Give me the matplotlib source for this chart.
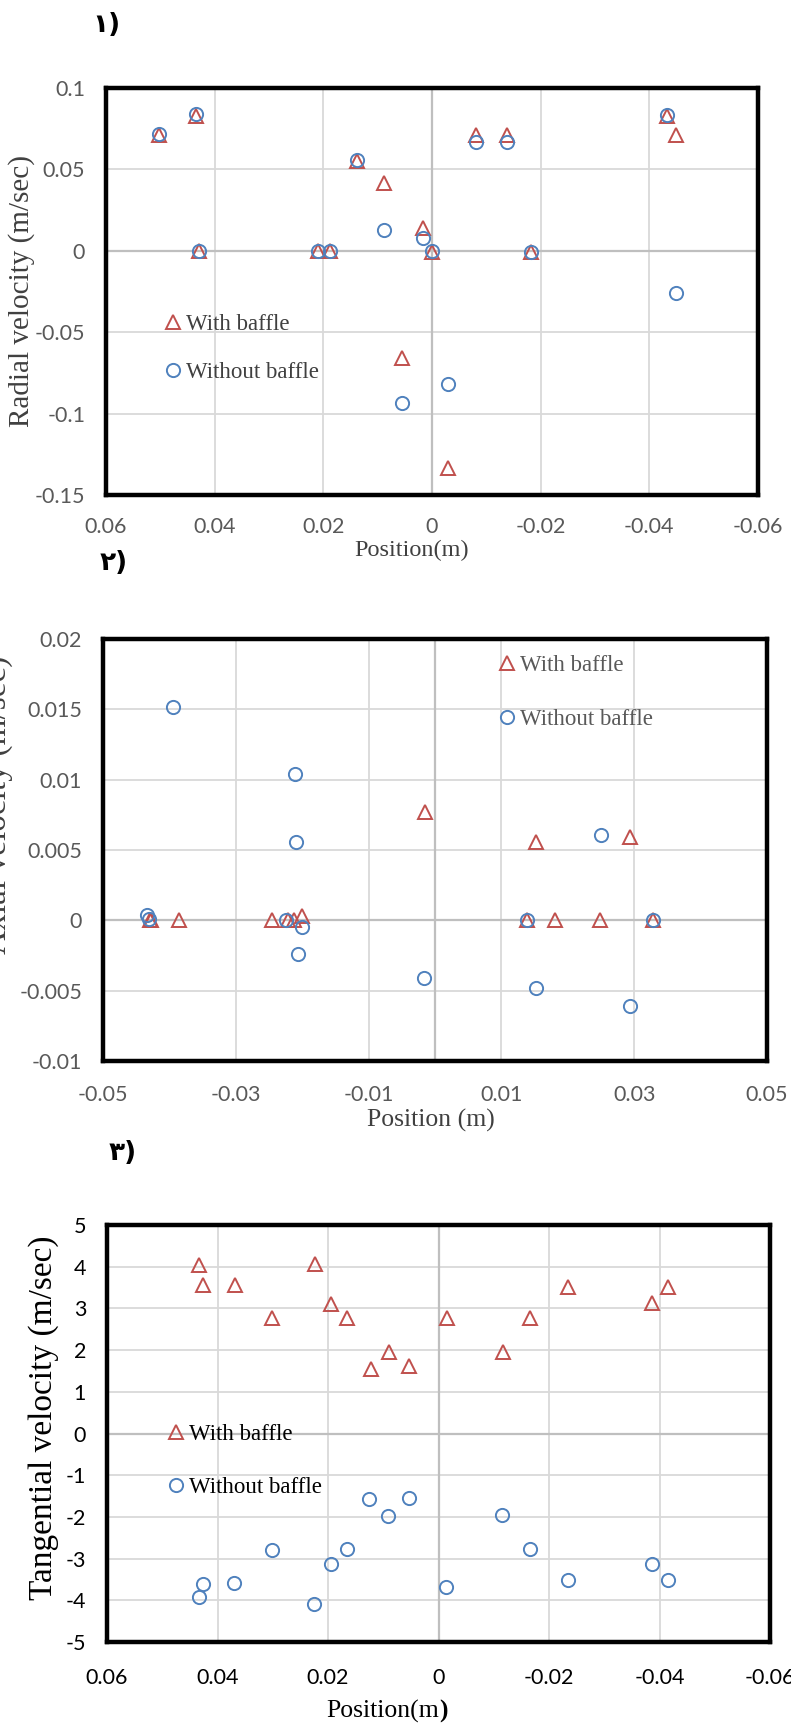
import numpy as np
import matplotlib.pyplot as plt

RED = '#C0504D'
BLUE = '#4F81BD'
GRID = '#d9d9d9'
ZERO = '#bfbfbf'

# panel 1 - radial velocity
rad_x_with = [0.0502, 0.0434, 0.0429, 0.021, 0.0188, 0.0138, 0.0088, 0.0017,
              0.0, -0.0081, -0.0138, -0.0182, -0.0433, -0.0449, 0.0055, -0.0029]
rad_v_with = [0.071, 0.083, 0.0, 0.0, 0.0, 0.055, 0.0417, 0.0141,
              -0.001, 0.071, 0.071, -0.001, 0.083, 0.071, -0.0656, -0.1337]
rad_x_without = [0.0502, 0.0434, 0.0429, 0.021, 0.0188, 0.0138, 0.0088, 0.0017,
                 0.0, -0.0081, -0.0138, -0.0182, -0.0433, -0.0449, 0.0055, -0.0029]
rad_v_without = [0.072, 0.084, 0.0, 0.0, 0.0, 0.056, 0.0129, 0.008,
                 0.0, 0.067, 0.067, -0.0005, 0.0834, -0.026, -0.0933, -0.0816]

# panel 2 - axial velocity
ax_x_with = [-0.0429, -0.0427, -0.0385, -0.0245, -0.0222, -0.0212, -0.020, -0.0015,
             0.0138, 0.0152, 0.0181, 0.0249, 0.0293, 0.0328]
ax_v_with = [0.0, 0.0, 0.0, 0.0, 0.0, 0.0, 0.0003, 0.0077,
             0.0, 0.0056, 0.0, 0.0, 0.0059, 0.0]
ax_x_without = [-0.0395, -0.0211, -0.0209, -0.0433, -0.0430, -0.0224, -0.0200, -0.0206,
                -0.0016, 0.0138, 0.0152, 0.025, 0.0293, 0.0328]
ax_v_without = [0.0152, 0.0104, 0.0056, 0.0004, 0.0001, 0.0, -0.0005, -0.0024,
                -0.0041, 0.0, -0.0048, 0.0061, -0.0061, 0.0]

# panel 3 - tangential velocity
tan_x_with = [0.0434, 0.0427, 0.0369, 0.0302, 0.0224, 0.0194, 0.0166, 0.0123,
              0.009, 0.0054, -0.0015, -0.0116, -0.0165, -0.0234, -0.0386, -0.0416]
tan_v_with = [4.04, 3.56, 3.56, 2.76, 4.06, 3.10, 2.76, 1.54,
              1.95, 1.61, 2.76, 1.95, 2.76, 3.51, 3.12, 3.51]
tan_x_without = [0.0125, 0.0054, 0.0092, -0.0115, 0.0301, 0.0166, -0.0165, 0.0195,
                 -0.0386, 0.0427, 0.037, 0.0433, 0.0226, -0.0014, -0.0234, -0.0415]
tan_v_without = [-1.56, -1.54, -1.97, -1.96, -2.79, -2.78, -2.78, -3.13,
                 -3.13, -3.61, -3.58, -3.92, -4.09, -3.68, -3.51, -3.51]

W, H = 791, 1726
fig = plt.figure(figsize=(W / 100, H / 100), dpi=100)


def box(left, top, right, bottom):
    return [left / W, 1 - bottom / H, (right - left) / W, (bottom - top) / H]


def setup(ax, xlim, ylim, xticks, yticks, xgrid, tick_color, pad_x, pad_y):
    ax.set_xlim(*xlim)
    ax.set_ylim(*ylim)
    ax.set_xticks(xticks)
    ax.set_yticks(yticks)
    ax.set_xticklabels(['%g' % v for v in xticks])
    ax.set_yticklabels(['%g' % v for v in yticks])
    for g in xgrid:
        ax.axvline(g, color=GRID, lw=1.3, zorder=0)
    for g in yticks:
        if g != 0:
            ax.axhline(g, color=GRID, lw=1.3, zorder=0)
    ax.axhline(0, color=ZERO, lw=1.6, zorder=0.5)
    ax.axvline(0, color=ZERO, lw=1.6, zorder=0.5)
    for s in ax.spines.values():
        s.set_linewidth(3.2)
        s.set_color('black')
    ax.tick_params(axis='both', length=0, labelsize=15.5, labelcolor=tick_color)
    ax.tick_params(axis='x', pad=pad_x)
    ax.tick_params(axis='y', pad=pad_y)
    for lab in ax.get_xticklabels() + ax.get_yticklabels():
        lab.set_fontfamily('Lato')


def scatter(ax, xw, yw, xo, yo, leg_anchor, text_color, spacing):
    ax.plot(xw, yw, ls='none', marker='^', ms=10, mfc='none', mec=RED, mew=1.4,
            label='With baffle', zorder=3)
    ax.plot(xo, yo, ls='none', marker='o', ms=9.5, mfc='none', mec=BLUE, mew=1.4,
            label='Without baffle', zorder=3)
    leg = ax.legend(loc='upper left', bbox_to_anchor=leg_anchor, frameon=False,
                    handlelength=0.8, handletextpad=0.15, labelspacing=spacing,
                    borderpad=0, borderaxespad=0,
                    prop={'family': 'Liberation Serif', 'size': 16.5})
    for t in leg.get_texts():
        t.set_color(text_color)


# ---- panel 1
ax1 = fig.add_axes(box(106, 88, 758, 495))
setup(ax1, (0.06, -0.06), (-0.15, 0.1),
      [0.06, 0.04, 0.02, 0, -0.02, -0.04, -0.06],
      [-0.15, -0.1, -0.05, 0, 0.05, 0.1],
      [0.04, 0.02, -0.02, -0.04], '#595959', 16, 15)
scatter(ax1, rad_x_with, rad_v_with, rad_x_without, rad_v_without,
        (0.089, 0.445), '#404040', 1.2)
fig.text(22 / W, 1 - 291 / H, 'Radial velocity (m/sec)', rotation=90,
         ha='center', va='center', family='Liberation Serif', size=21,
         color='#404040')
fig.text(412 / W, 1 - 550 / H, 'Position(m)', ha='center', va='center',
         family='Liberation Serif', size=17.5, color='#404040')
fig.text(106 / W, 1 - 25 / H, '\u0661)', ha='center', va='center',
         family='DejaVu Sans', weight='bold', size=19)

# ---- panel 2
ax2 = fig.add_axes(box(103, 639, 767, 1061))
setup(ax2, (-0.05, 0.05), (-0.01, 0.02),
      [-0.05, -0.03, -0.01, 0.01, 0.03, 0.05],
      [-0.01, -0.005, 0, 0.005, 0.01, 0.015, 0.02],
      [-0.03, -0.01, 0.01, 0.03], '#595959', 17, 15)
scatter(ax2, ax_x_with, ax_v_with, ax_x_without, ax_v_without,
        (0.595, 0.961), '#595959', 1.4)
fig.text(-2 / W, 1 - 805 / H, 'Axial velocity (m/sec)', rotation=90,
         ha='center', va='center', family='Liberation Serif', size=24,
         color='#404040')
fig.text(431 / W, 1 - 1120 / H, 'Position (m)', ha='center', va='center',
         family='Liberation Serif', size=18.5, color='#404040')
fig.text(114 / W, 1 - 563 / H, '\u0662)', ha='center', va='center',
         family='DejaVu Sans', weight='bold', size=19)

# ---- panel 3
ax3 = fig.add_axes(box(107, 1225, 770, 1642))
setup(ax3, (0.06, -0.06), (-5, 5),
      [0.06, 0.04, 0.02, 0, -0.02, -0.04, -0.06],
      [-5, -4, -3, -2, -1, 0, 1, 2, 3, 4, 5],
      [0.04, 0.02, -0.02, -0.04], 'black', 19, 15)
scatter(ax3, tan_x_with, tan_v_with, tan_x_without, tan_v_without,
        (0.0905, 0.523), 'black', 1.4)
fig.text(44 / W, 1 - 1418 / H, 'Tangential velocity (m/sec)', rotation=90,
         ha='center', va='center', family='Liberation Serif', size=24,
         color='black')
fig.text(439 / W, 1 - 1711 / H, 'Position(m', ha='right', va='center',
         family='Liberation Serif', size=18.5, color='black')
fig.text(439 / W, 1 - 1711 / H, ')', ha='left', va='center',
         family='Liberation Serif', size=18.5, weight='bold', color='black')
fig.text(123 / W, 1 - 1153 / H, '\u0663)', ha='center', va='center',
         family='DejaVu Sans', weight='bold', size=19)

fig.savefig('out.png', dpi=100)
